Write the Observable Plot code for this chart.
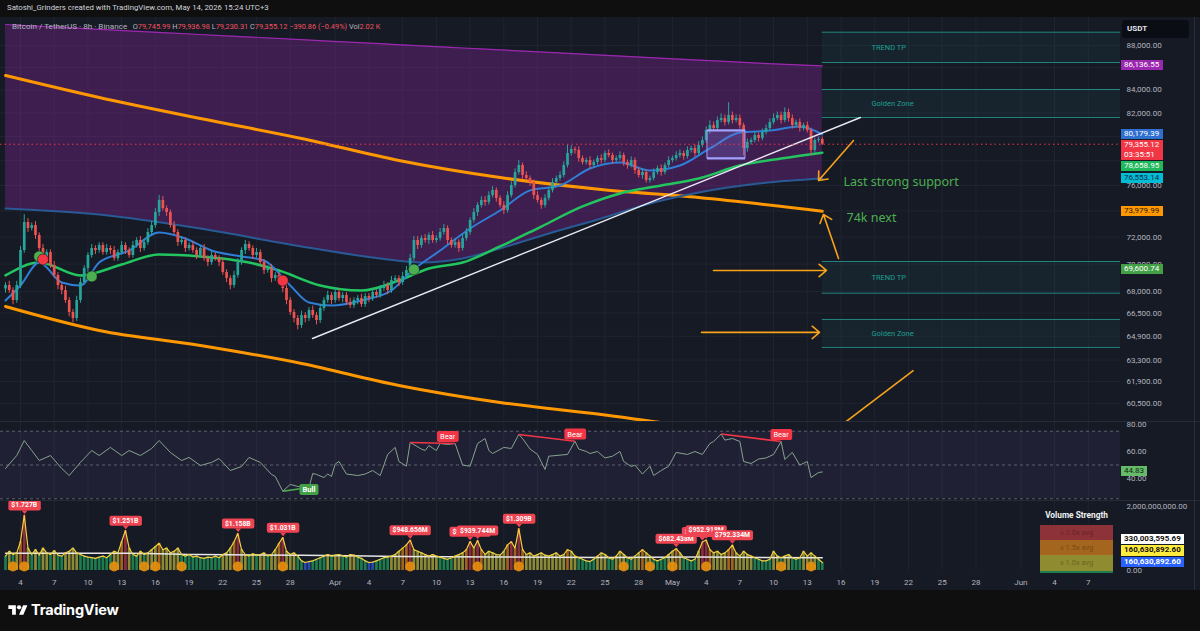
<!DOCTYPE html>
<html><head><meta charset="utf-8">
<script src="https://cdn.jsdelivr.net/npm/d3@7"></script>
<script src="https://cdn.jsdelivr.net/npm/@observablehq/plot@0.6"></script>
<style>
body{margin:0;background:#0f0f0f;}
#root{position:relative;width:1200px;height:631px;overflow:hidden;background:#0f0f0f;font-family:Roboto,"Noto Sans",sans-serif;}
.abs{position:absolute;}
.tag{position:absolute;left:1121px;padding:0 3px;font-size:8px;line-height:10px;white-space:pre;min-width:36px;}
.r{color:#f2525e;}
</style></head><body><div id="root"></div>
<script>
// ---------------- DATA ----------------
const firstCandle = "2026-03-02T16:00:00Z"; // 8h candles
const firstOpen = 68200;
const closes = [68445,68085,67380,68445,71000,73115,72655,72880,72125,71150,
70410,70850,69890,69170,68445,68085,67380,66540,66120,67380,
68660,69675,70630,71150,71000,71375,70850,71150,71000,70410,
70850,71375,71000,70630,71375,71745,71150,71600,72350,72880,
73880,74820,74190,73880,72880,72350,71600,71745,71150,71375,
71000,70630,71150,70410,70110,70630,70410,70110,69385,68945,
68445,69170,70110,71000,71450,71150,70630,70850,70110,69530,
69675,68945,69170,68660,68230,67380,66540,66120,65640,66325,
66120,66680,66325,65980,66820,67380,67735,67380,67945,67520,
67735,67235,67020,67380,67520,67090,67665,67520,67945,67735,
68230,68445,68085,68800,68945,68660,69100,69530,70410,71745,
71375,71900,71745,72125,71745,71900,72350,72655,71745,71375,
71600,71150,71900,72350,73270,73880,74430,74820,74665,75205,
75610,74980,74430,74035,75205,76000,77040,77610,76800,76560,
76240,75205,74820,74430,74980,75610,76240,76560,76800,77610,
78590,78920,78840,78180,77855,78020,77610,77855,78180,78020,
78590,78425,78020,78180,78425,77855,77610,78020,77205,76800,
77040,76395,76560,77040,77365,77040,77610,78020,78180,78425,
78590,78340,78840,79005,78590,79255,79665,80500,80925,80670,
81355,81525,81185,81780,81355,81525,80925,79005,79500,79665,
80090,79840,80330,80670,81185,81525,81780,81355,82040,81525,
80925,81185,80670,80925,80500,78840,79665,79746,79355];
// wick extents in hundreds of USD
const upWick = [2,3,2,3,3,6,3,2,3,2, 3,2,2,3,2,2,3,2,2,3, 3,2,2,3,2,2,2,3,2,3, 2,3,2,2,3,2,3,2,3,3,
3,4,3,2,2,3,2,3,2,2, 3,2,2,3,2,3,2,2,3,2, 2,3,3,2,3,2,2,3,2,2, 2,3,2,2,3,2,2,2,2,3,
2,2,3,2,3,2,3,2,3,2, 2,2,3,2,2,3,2,2,3,2, 2,3,2,3,2,2,3,3,3,3, 3,2,3,2,3,2,3,3,2,2,
3,2,3,3,2,3,2,3,3,3, 3,2,2,3,3,3,3,4,2,3, 2,2,3,2,3,2,3,2,3,3, 7,3,2,3,2,2,3,2,2,3,
2,3,2,2,3,2,2,3,2,2, 3,2,2,3,2,3,2,3,2,3, 3,2,3,2,3,3,3,3,4,3, 3,4,3,11,3,3,3,2,3,2,
3,2,3,3,3,4,3,3,4,3, 3,2,3,2,3,2,2,2,2];
const dnWick = [3,2,3,2,2,2,3,2,3,3, 3,2,2,2,3,3,2,3,3,2, 2,2,3,2,3,2,2,2,3,2, 2,2,3,2,2,2,3,2,2,2,
2,3,2,3,2,2,3,2,3,2, 2,3,2,2,3,2,2,3,2,3, 3,2,2,2,3,2,3,2,2,3, 2,3,2,2,3,3,2,3,3,2,
3,2,2,3,2,2,2,3,2,2, 3,2,2,2,3,2,2,3,2,2, 2,2,3,2,2,3,2,2,2,2, 3,2,2,3,2,2,2,2,3,2,
2,3,2,2,2,2,3,2,3,2, 2,3,2,3,2,2,2,2,3,2, 3,3,2,3,2,2,2,2,2,2, 2,2,3,3,2,2,3,2,2,3,
2,2,3,2,2,3,3,2,3,2, 3,2,2,2,2,3,2,2,2,2, 2,3,2,2,3,2,2,2,3,2, 2,2,3,2,3,2,3,6,3,2,
2,3,2,2,2,2,2,3,2,3, 3,2,3,2,2,4,3,2,1];
// volume per candle, millions USD
const volumes = [450,600,500,550,900,1727,700,500,650,480, 700,550,500,620,480,450,550,600,700,550,
500,450,420,400,380,420,450,400,500,600, 550,900,1251,700,500,450,600,500,550,650,
750,850,650,700,550,600,700,500,450,500, 420,450,400,380,420,400,450,400,500,550,
700,900,1158,650,500,450,520,480,500,550, 450,500,650,850,1031,600,500,550,450,300,
250,280,300,350,400,450,500,450,480,500, 460,420,500,480,420,380,300,250,260,300,
350,400,420,450,500,600,700,800,949,650, 600,550,500,450,500,450,420,380,350,400,
450,500,550,650,905,700,940,650,500,600, 550,500,480,600,800,900,700,1309,650,500,
550,450,500,550,480,450,500,550,450,500, 650,600,450,400,350,300,280,350,450,550,
500,400,350,450,600,500,400,350,450,550, 650,550,450,350,300,350,400,500,600,682,
550,400,350,300,350,600,893,953,650,550, 600,500,550,650,792,550,450,600,500,450,
400,350,300,300,350,600,450,400,450,500, 400,350,400,600,450,550,450,350,250];
const volAvgIdx = [0,33,52,79,105,132,159,185,218];
const volAvgVal = [540,540,500,480,440,420,410,420,400];
const volSpikeIdx = [2,5,29,37,40,47,62,74,108,126,137,165,172,178,187,207,215];
const volLabelIdx = [5,32,62,74,108,124,126,137,179,186,187,194];
const volLabelText = ["$1.727B","$1.251B","$1.158B","$1.031B","$948.656M","$905.118M","$939.744M","$1.309B","$682.438M","$893.102M","$952.918M","$792.334M"];

// indicator lines (candle index -> price)
const bandIdx = [0,25,52,79,100,111,122,132,145,159,172,185,201,218];
const bandTop = [89956,89506,89019,88536,88166,87963,87770,87596,87366,87120,86892,86665,86384,86137];
const bandBottom = [74190,73730,72655,71300,70410,70110,70410,71150,72275,73420,74585,75450,76160,76553];
const orangeHiIdx = [0,25,52,79,105,132,159,185,218];
const orangeHiVal = [85278,83336,81523,79835,78020,76640,75685,75055,73980];
const orangeLoIdx = [0,25,52,79,105,132,159,179,201];
const orangeLoVal = [66960,65300,64275,63080,61645,60555,59795,59180,58680];
const blueIdx = [0,4,9,15,20,25,33,41,48,55,63,69,76,81,87,95,103,108,116,124,132,140,148,156,164,172,180,188,196,204,212,218];
const blueVal = [67380,68445,70110,68660,68445,70110,71000,72350,71900,71000,70560,70260,68445,67235,67020,67380,68085,69385,71000,72655,74035,75610,76000,77365,77855,77205,77610,79005,80330,80500,80840,80179];
const greenIdx = [0,9,20,31,41,52,65,73,84,95,105,113,122,132,143,154,164,175,185,196,207,218];
const greenVal = [69170,70110,69170,69965,70700,70560,70110,69530,68445,68085,68800,69675,70110,71300,72805,74350,75370,76000,76560,77610,78180,78659];
const ballIdx = [9,10,23,74,109];
const ballPrice = [70560,70335,69100,68800,69600];
const ballSide = ["bull","bear","bull","bear","bull"];

// drawings
const trendDates = ["2026-03-29T23:30:00Z","2026-05-17T17:30:00Z"];
const trendPrices = [64750,81610];
const boxDates = ["2026-05-04T02:50:00Z","2026-05-07T12:00:00Z"];
const boxPrices = [78180,80500];
const zoneNames = ["TREND TP","Golden Zone","TREND TP","Golden Zone"];
const zoneLow = [86447,81610,67893,64146];
const zoneHigh = [89234,84037,70186,66054];
const zoneStart = "2026-05-14T08:00:00Z";
const zoneEnd = "2026-07-01T00:00:00Z";
const zoneLabelDate = "2026-05-18T17:00:00Z";
const arrowFromDate = ["2026-05-17T02:40:00Z","2026-05-15T18:40:00Z","2026-05-04T15:40:00Z","2026-05-03T14:10:00Z"];
const arrowFromPrice = [79665,70410,69530,65165];
const arrowToDate = ["2026-05-14T00:00:00Z","2026-05-14T10:30:00Z","2026-05-14T17:00:00Z","2026-05-14T02:10:00Z"];
const arrowToPrice = [76395,73730,69530,65165];
const strokeDates = ["2026-05-16T05:20:00Z","2026-05-22T10:50:00Z"];
const strokePrices = [59235,62620];
const noteText = ["Last strong support","74k next"];
const noteDate = ["2026-05-16T05:20:00Z","2026-05-16T11:45:00Z"];
const notePrice = [76240,73420];

// RSI
const rsiIdx = [0,3,5,7,9,12,15,17,20,23,25,28,31,33,36,39,41,44,47,49,52,55,57,60,63,65,68,71,72,74,76,78,81,82,83,85,86,87,88,89,91,94,96,98,100,102,104,105,107,108,111,112,113,115,116,118,120,122,124,126,128,129,130,133,135,137,138,140,142,144,145,148,150,152,153,155,156,158,160,162,164,165,167,168,170,172,173,175,177,179,182,184,186,188,189,191,192,194,196,197,199,201,203,205,207,208,210,212,214,215,217,218];
const rsiVal = [47.4,57.0,68.1,60.7,53.3,57.0,47.4,42.2,51.9,60.7,57.0,63.0,57.0,60.7,57.0,62.2,68.1,59.3,53.3,55.6,49.6,51.9,54.8,45.9,48.9,55.6,51.9,43.0,41.5,30.6,35.6,34.1,33.3,43.7,43.0,40.7,43.3,41.5,50.7,52.6,43.3,42.2,43.3,45.9,42.2,57.8,63.0,52.6,49.1,66.7,61.8,60.7,64.4,60.7,65.9,65.2,65.9,49.9,49.1,65.9,69.6,60.7,58.5,63.0,62.2,72.6,69.6,61.8,57.8,46.7,56.5,57.3,57.8,67.6,61.8,60.0,58.5,60.0,55.2,56.5,60.0,52.6,48.9,49.9,43.3,49.1,42.2,45.9,49.1,59.3,57.8,60.0,57.8,65.9,67.4,72.9,68.4,69.6,67.4,52.6,51.1,54.4,55.2,57.8,67.4,54.1,59.3,49.9,52.6,40.7,44.4,44.83];
const rsiBands = [75,50,25];
const divType = ["Bull","Bear","Bear","Bear"];
const divI1 = [74,108,137,191], divV1 = [30.6,66.7,72.6,72.9];
const divI2 = [81,120,152,207], divV2 = [33.3,65.9,67.6,67.4];
const divLabelI = [81,118,152,207];

// axes / tags
const xTickDates = ["2026-03-04","2026-03-07","2026-03-10","2026-03-13","2026-03-16","2026-03-19","2026-03-22","2026-03-25","2026-03-28","2026-04-01","2026-04-04","2026-04-07","2026-04-10","2026-04-13","2026-04-16","2026-04-19","2026-04-22","2026-04-25","2026-04-28","2026-05-01","2026-05-04","2026-05-07","2026-05-10","2026-05-13","2026-05-16","2026-05-19","2026-05-22","2026-05-25","2026-05-28","2026-06-01","2026-06-04","2026-06-07"];
const priceGrid = [88000,86000,84000,82000,80000,78000,76000,74000,72000,70000,68000,66500,64900,63300,61900,60500];
const priceLabels = [88000,84000,82000,76000,72000,70000,68000,66500,64900,63300,61900,60500];
const rsiTicks = [80,60,40];
const volTicks = [0,2e9];
const tagValues = [86136.55,80179.39,79355.12,78658.95,76553.14,73979.99,69600.74];
const tagExtra = ["","","03:35:51","","","",""];
const rsiTagValue = 44.83;
const volTagValues = [330003595.69,160630892.60,160630892.60];
const legendTitle = "Bitcoin / TetherUS · 8h · Binance";
const legendO = 79745.99, legendH = 79936.98, legendL = 79230.31, legendC = 79355.12, legendChg = -390.86, legendPct = -0.49, legendVol = "2.02 K";
const strengthRows = ["≥ 2.0x avg","≥ 1.5x avg","≥ 1.0x avg"];

// ---------------- LAYOUT / STYLE ----------------
const FONT = "Roboto, 'Noto Sans', sans-serif";
const BG = "#161a25", GRID = "#1f2430", AXIS = "#b2b5be";
const UP = "#26a69a", DOWN = "#ef5350";
const DAY = 864e5, MAR4 = Date.UTC(2026,2,4), PXDAY = 11.24, X0 = 20, PLOT_R = 1120;
const xDomain = [new Date(MAR4 - X0/PXDAY*DAY), new Date(MAR4 + (PLOT_R - X0)/PXDAY*DAY)];
const T0 = Date.parse(firstCandle);
const tAt = i => new Date(T0 + i*8*3600e3);
const xTicks = xTickDates.map(s => new Date(s + "T00:00:00Z"));
const months = ["Jan","Feb","Mar","Apr","May","Jun","Jul","Aug","Sep","Oct","Nov","Dec"];
const fmtX = d => d.getUTCDate() === 1 ? months[d.getUTCMonth()] : String(d.getUTCDate());
const root = document.getElementById("root");
const fmt2 = d3.format(",.2f");

const candles = closes.map((c,i) => { const o = i ? closes[i-1] : firstOpen;
  return {t: tAt(i), o, c, h: Math.max(o,c) + upWick[i]*100, l: Math.min(o,c) - dnWick[i]*100}; });
const band = bandIdx.map((k,j) => ({t: tAt(k), hi: bandTop[j], lo: bandBottom[j]}));
const series = (idx, val) => idx.map((k,j) => ({t: tAt(k), v: val[j]}));
const zones = zoneNames.map((n,j) => ({n, lo: zoneLow[j], hi: zoneHigh[j], mid: Math.sqrt(zoneLow[j]*zoneHigh[j]), t1: new Date(zoneStart), t2: new Date(zoneEnd), tl: new Date(zoneLabelDate)}));
const arrows = arrowFromDate.map((d,j) => ({x1: new Date(d), y1: arrowFromPrice[j], x2: new Date(arrowToDate[j]), y2: arrowToPrice[j]}));
const notes = noteText.map((s,j) => ({s, t: new Date(noteDate[j]), p: notePrice[j]}));
const balls = ballIdx.map((k,j) => ({t: tAt(k), p: ballPrice[j], side: ballSide[j]}));

// right-side axis labels as text marks (avoids log-scale label thinning)
const axisLabels = (ticks) => Plot.text(ticks, {y: d => d, text: d => fmt2(d), frameAnchor: "right", textAnchor: "start", dx: 6, fill: AXIS, fontSize: 8});

// chart background
const bg = document.createElement("div"); bg.className = "abs";
Object.assign(bg.style, {left:"0", top:"17px", width:"1200px", height:"573px", background: BG});
root.appendChild(bg);

function place(svg, top) { svg.style.position = "absolute"; svg.style.left = "0"; svg.style.top = top + "px"; svg.style.overflow = "hidden"; svg.style.background = "transparent"; root.appendChild(svg); return svg; }
const baseStyle = {background: "transparent", color: AXIS, fontFamily: FONT, fontSize: "8px"};

// ---------------- PRICE PANE ----------------
const price = Plot.plot({
  width: 1200, height: 404, marginLeft: 0, marginRight: 1200 - PLOT_R, marginTop: 0, marginBottom: 0,
  style: baseStyle,
  x: {type: "utc", domain: xDomain, axis: null},
  y: {type: "log", domain: [59360, 90618], axis: null},
  marks: [
    Plot.ruleY(priceGrid, {stroke: GRID}),
    Plot.ruleX(xTicks, {stroke: GRID}),
    Plot.areaY(band, {x: "t", y1: "lo", y2: "hi", fill: "#9c27b0", fillOpacity: 0.3, curve: "monotone-x"}),
    Plot.line(band, {x: "t", y: "hi", stroke: "#9c27b0", strokeWidth: 1.2, curve: "monotone-x"}),
    Plot.rect(zones, {x1: "t1", x2: "t2", y1: "lo", y2: "hi", fill: "#26a69a", fillOpacity: 0.07, clip: true}),
    Plot.ruleY(zones, {x1: "t1", x2: "t2", y: "lo", stroke: "#26a69a", strokeOpacity: 0.75, clip: true}),
    Plot.ruleY(zones, {x1: "t1", x2: "t2", y: "hi", stroke: "#26a69a", strokeOpacity: 0.75, clip: true}),
    Plot.text(zones, {x: "tl", y: "mid", text: "n", textAnchor: "start", fill: "#1f9e92", fontSize: 7.5}),
    Plot.line(series(orangeHiIdx, orangeHiVal), {x: "t", y: "v", stroke: "#ff9800", strokeWidth: 3, curve: "monotone-x", clip: true}),
    Plot.line(series(orangeLoIdx, orangeLoVal), {x: "t", y: "v", stroke: "#ff9800", strokeWidth: 3, curve: "monotone-x", clip: true}),
    Plot.line(band, {x: "t", y: "lo", stroke: "#2a5a95", strokeWidth: 2, curve: "monotone-x"}),
    Plot.line(series(greenIdx, greenVal), {x: "t", y: "v", stroke: "#22c55e", strokeWidth: 2.5, curve: "monotone-x"}),
    Plot.line(series(blueIdx, blueVal), {x: "t", y: "v", stroke: "#2f7ed8", strokeWidth: 2, curve: "monotone-x"}),
    Plot.ruleX(candles, {x: "t", y1: "l", y2: "h", stroke: d => d.c >= d.o ? UP : DOWN, strokeWidth: 1}),
    Plot.ruleX(candles, {x: "t", y1: "o", y2: "c", stroke: d => d.c >= d.o ? UP : DOWN, strokeWidth: 2.7}),
    Plot.line(trendDates.map((d,j) => ({t: new Date(d), p: trendPrices[j]})), {x: "t", y: "p", stroke: "#e8e8f2", strokeWidth: 1.4}),
    Plot.dot(balls, {x: "t", y: "p", r: 5.5, fill: d => d.side === "bull" ? "#4caf50" : "#f23645", stroke: "#111", strokeWidth: 0.5}),
    Plot.rect([{t1: new Date(boxDates[0]), t2: new Date(boxDates[1]), lo: boxPrices[0], hi: boxPrices[1]}], {x1: "t1", x2: "t2", y1: "lo", y2: "hi", fill: "#7e6fd6", fillOpacity: 0.3, stroke: "#9d9dff", strokeWidth: 1}),
    Plot.ruleY(boxPrices, {x1: new Date(boxDates[0]), x2: new Date(boxDates[1]), stroke: "#a3a3ff", strokeWidth: 2}),
    Plot.arrow(arrows, {x1: "x1", y1: "y1", x2: "x2", y2: "y2", stroke: "#f7a21b", strokeWidth: 1.6, headLength: 9, headAngle: 80}),
    Plot.link([{a: new Date(strokeDates[0]), b: strokePrices[0], c: new Date(strokeDates[1]), d: strokePrices[1]}], {x1: "a", y1: "b", x2: "c", y2: "d", stroke: "#f7a21b", strokeWidth: 1.6, clip: true}),
    Plot.text(notes, {x: "t", y: "p", text: "s", textAnchor: "start", fill: "#4caf50", fontSize: 12.5, fontFamily: "'Noto Sans', sans-serif"}),
    Plot.ruleY([legendC], {stroke: "#f23645", strokeDasharray: "1.5,3", strokeWidth: 1}),
    axisLabels(priceLabels)
  ]
});
place(price, 17);

// ---------------- RSI PANE ----------------
const rsi = Plot.plot({
  width: 1200, height: 79, marginLeft: 0, marginRight: 1200 - PLOT_R, marginTop: 0, marginBottom: 0,
  style: baseStyle,
  x: {type: "utc", domain: xDomain, axis: null},
  y: {domain: [23.7, 82.2], axis: null},
  marks: [
    Plot.ruleX(xTicks, {stroke: GRID}),
    Plot.rect([{a: xDomain[0], b: xDomain[1]}], {x1: "a", x2: "b", y1: rsiBands[2], y2: rsiBands[0], fill: "#7e57c2", fillOpacity: 0.1}),
    Plot.ruleY(rsiBands, {stroke: "#787b86", strokeOpacity: 0.7, strokeDasharray: "3,3"}),
    Plot.line(series(rsiIdx, rsiVal), {x: "t", y: "v", stroke: "#86a38e", strokeWidth: 1}),
    Plot.link(divType.map((k,j) => ({k, a: tAt(divI1[j]), b: divV1[j], c: tAt(divI2[j]), d: divV2[j]})), {x1: "a", y1: "b", x2: "c", y2: "d", stroke: d => d.k === "Bull" ? "#4caf50" : "#f23645", strokeWidth: 1.5}),
    Plot.text(divType.map((k,j) => ({k, t: tAt(divLabelI[j]), v: divV2[j]})).filter(d => d.k === "Bear"), {x: "t", y: "v", text: "k", fill: "#fffffd", fontSize: 7.5, dy: -7}),
    Plot.text(divType.map((k,j) => ({k, t: tAt(divLabelI[j]), v: divV2[j]})).filter(d => d.k === "Bull"), {x: "t", y: "v", text: "k", fill: "#fffffc", fontSize: 7.5, dy: 2, fontWeight: "bold"}),
    axisLabels(rsiTicks)
  ]
});
place(rsi, 421);

// ---------------- VOLUME PANE ----------------
const avgScale = d3.scaleLinear().domain(volAvgIdx).range(volAvgVal);
const vols = volumes.map((v,i) => ({t: tAt(i), v: v*1e6, r: v/avgScale(i)}));
const volColor = d => d.r >= 2 ? "#8e2b3c" : d.r >= 1.5 ? "#a3621d" : d.r >= 1 ? "#8d8a36" : d.r < 0.6 ? "#2a4aae" : "#1e7d4d";
const vol = Plot.plot({
  width: 1200, height: 90, marginLeft: 0, marginRight: 1200 - PLOT_R, marginTop: 0, marginBottom: 20,
  style: baseStyle,
  x: {type: "utc", domain: xDomain, axis: null},
  y: {domain: [0, 2.1875e9], axis: null},
  marks: [
    Plot.ruleX(xTicks, {stroke: GRID}),
    Plot.ruleX(vols, {x: "t", y1: 0, y2: "v", stroke: volColor, strokeWidth: 2.7}),
    Plot.line(series(volAvgIdx, volAvgVal.map(v => v*1e6)), {x: "t", y: "v", stroke: "#e6e6e6", strokeWidth: 1.5, curve: "monotone-x"}),
    Plot.line(vols, {x: "t", y: "v", stroke: "#f4d03f", strokeWidth: 1.2}),
    Plot.dot(volSpikeIdx.map(k => ({t: tAt(k)})), {x: "t", y: 0, r: 5, fill: "#e8900c", fillOpacity: 0.9, dy: -4}),
    Plot.text(volLabelIdx.map((k,j) => ({t: tAt(k), v: volumes[k]*1e6, s: volLabelText[j]})), {x: "t", y: "v", text: "s", fill: "#fffffe", fontSize: 6.8, fontWeight: "bold", dy: -10}),
    axisLabels(volTicks),
    Plot.axisX({ticks: xTicks, tickFormat: fmtX, tickSize: 0, tickPadding: 9, fontSize: 8, color: AXIS, label: null})
  ]
});
place(vol, 500);

// badges (boxes behind label texts)
function badges(svg, marker, fill, pointer) {
  const ns = "http://www.w3.org/2000/svg";
  svg.querySelectorAll(`g[fill="${marker}"] text`).forEach(t => {
    const b = t.getBBox(), tr = t.getAttribute("transform");
    const r = document.createElementNS(ns, "rect");
    r.setAttribute("x", b.x - 3); r.setAttribute("y", b.y - 1);
    r.setAttribute("width", b.width + 6); r.setAttribute("height", b.height + 2);
    r.setAttribute("rx", 2); r.setAttribute("fill", fill);
    if (tr) r.setAttribute("transform", tr);
    t.parentNode.insertBefore(r, t);
    if (pointer) {
      const p = document.createElementNS(ns, "path");
      const cx = b.x + b.width/2, by = b.y + b.height + 1;
      p.setAttribute("d", `M${cx-3},${by}L${cx+3},${by}L${cx},${by+3.5}Z`);
      p.setAttribute("fill", fill); if (tr) p.setAttribute("transform", tr);
      t.parentNode.insertBefore(p, t);
    }
    t.setAttribute("fill", "#ffffff");
  });
}
badges(vol, "#fffffe", "#ef4452", true);
badges(rsi, "#fffffd", "#f23645", false);
badges(rsi, "#fffffc", "#43a047", false);

// ---------------- HTML overlays ----------------
function div(style, html) { const d = document.createElement("div"); d.className = "abs"; Object.assign(d.style, style); if (html != null) d.innerHTML = html; root.appendChild(d); return d; }
// header
div({left: "7px", top: "3px", fontSize: "7.8px", color: "#d1d4dc", whiteSpace: "nowrap"}, "Satoshi_Grinders created with TradingView.com, May 14, 2026 15:24 UTC+3");
// legend
const sgn = v => (v < 0 ? "−" : "+") + fmt2(Math.abs(v));
div({left: "12px", top: "21px", fontSize: "7.4px", color: "#b2b5be", whiteSpace: "nowrap"},
  `<span style="font-size:8.1px">${legendTitle}</span>&nbsp;&nbsp;&nbsp;O<span class="r">${fmt2(legendO)}</span> H<span class="r">${fmt2(legendH)}</span> L<span class="r">${fmt2(legendL)}</span> C<span class="r">${fmt2(legendC)}</span> <span class="r">${sgn(legendChg)} (${sgn(legendPct)}%)</span> Vol<span class="r">${legendVol}</span>`);
// separators & frame
div({left: "0", top: "421px", width: "1200px", height: "1px", background: "#262b38"});
div({left: "0", top: "500px", width: "1200px", height: "1px", background: "#262b38"});
div({left: "1194px", top: "17px", width: "1px", height: "573px", background: "#2a2e39"});
// USDT box
div({left: "1122px", top: "20px", width: "62px", height: "18px", background: "#0b0d14", borderRadius: "3px", color: "#e0e3eb", fontSize: "8px", fontWeight: "bold", lineHeight: "18px", paddingLeft: "5px"}, "USDT");
// price tags
const ys = price.scale("y");
const tagBg = ["#9c27b0","#2f6fd0","#f23645","#1fb85a","#00bcd4","#ff9800","#43a047"];
const tagFg = ["#fff","#fff","#fff","#fff","#0b2a4a","#2a1800","#fff"];
let prevBottom = -1e9;
tagValues.map((v,j) => ({v, j, y: 17 + ys.apply(v)})).sort((a,b) => a.y - b.y).forEach(o => {
  const lines = tagExtra[o.j] ? 2 : 1;
  const top = Math.max(o.y - 5, prevBottom + 1);
  prevBottom = top + 10*lines;
  const d = div({}, fmt2(o.v) + (tagExtra[o.j] ? "\n" + tagExtra[o.j] : ""));
  d.className = "tag"; Object.assign(d.style, {top: top + "px", background: tagBg[o.j], color: tagFg[o.j]});
});
// rsi tag
{ const y = 421 + rsi.scale("y").apply(rsiTagValue);
  const d = div({}, fmt2(rsiTagValue)); d.className = "tag"; Object.assign(d.style, {top: (y - 5) + "px", background: "#66bb6a", color: "#0e2a10", minWidth: "20px"}); }
// volume tags (stacked upward from pane bottom)
{ const vs = vol.scale("y"); const bg3 = ["#ffffff","#ffeb3b","#2962ff"], fg3 = ["#111","#111","#fff"];
  let limit = 567;
  for (let j = volTagValues.length - 1; j >= 0; j--) {
    const ideal = 500 + vs.apply(volTagValues[j]);
    const bottom = Math.min(ideal + 5.5, limit);
    const d = div({}, fmt2(volTagValues[j])); d.className = "tag";
    Object.assign(d.style, {top: (bottom - 10.5) + "px", height: "10.5px", background: bg3[j], color: fg3[j], fontWeight: "bold"});
    limit = bottom - 11.5;
  } }
// volume strength legend
div({left: "1040px", top: "510px", width: "73px", textAlign: "center", fontSize: "8.3px", fontWeight: "bold", color: "#f0f0f0"}, "Volume Strength");
const rowBg = ["#8e3239","#a4661e","#8f8b30"], rowFg = ["#6d2228","#7b4912","#6a6620"];
strengthRows.forEach((s,j) => div({left: "1040px", top: (525 + j*15) + "px", width: "73px", height: j === 2 ? "16px" : "15px", background: rowBg[j], color: rowFg[j], fontSize: "7.5px", lineHeight: "15px", textAlign: "center"}, s));
div({left: "1040px", top: "571px", width: "73px", height: "2px", background: "#1e7d4d"});
// footer
div({left: "0", top: "590px", width: "1200px", height: "41px", background: "#0f0f0f"});
div({left: "8px", top: "603px"}, `<svg width="20" height="15" viewBox="0 0 36 28"><path fill="#fff" d="M14 22H7V11H0V4h14v18zM28 22h-8l7.5-18h8L28 22z"/><circle fill="#fff" cx="20" cy="8" r="4"/></svg>`);
div({left: "31px", top: "601px", fontSize: "14.5px", fontWeight: "bold", color: "#ffffff", fontFamily: "Inter, Roboto, sans-serif", letterSpacing: "-0.2px"}, "TradingView");
</script></body></html>
